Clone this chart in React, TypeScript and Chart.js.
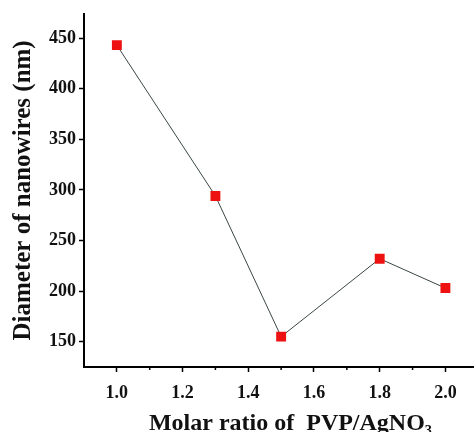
import React, { useEffect, useRef } from "react";
import { Chart, registerables } from "chart.js";

Chart.register(...registerables);

const ratios = [1.0, 1.3, 1.5, 1.8, 2.0];
const diameters = [443, 294, 155, 232, 203];
const xTicks = [1.0, 1.2, 1.4, 1.6, 1.8, 2.0];
const xMinorTicks = [1.1, 1.3, 1.5, 1.7, 1.9];
const yTicks = [150, 200, 250, 300, 350, 400, 450];

const FONT = "'Liberation Serif', 'Times New Roman', serif";

const minorTickPlugin = {
  id: "minorTicks",
  afterDraw(chart: any) {
    const xs = chart.scales.x;
    const ctx = chart.ctx;
    const y0 = chart.chartArea.bottom;
    ctx.save();
    ctx.strokeStyle = "#000";
    ctx.lineWidth = 1.5;
    xMinorTicks.forEach((v) => {
      const px = xs.getPixelForValue(v);
      ctx.beginPath();
      ctx.moveTo(px, y0);
      ctx.lineTo(px, y0 + 3);
      ctx.stroke();
    });
    ctx.restore();
  },
};

export default function App() {
  const ref = useRef<HTMLCanvasElement>(null);
  useEffect(() => {
    document.body.style.margin = "0";
    const chart = new Chart(ref.current!, {
      type: "line",
      data: {
        datasets: [
          {
            data: ratios.map((r, i) => ({ x: r, y: diameters[i] })),
            borderColor: "#3a4646",
            borderWidth: 1,
            pointStyle: "rect",
            pointRadius: 7,
            pointBackgroundColor: "#ee1111",
            pointBorderColor: "#ee1111",
            pointBorderWidth: 0,
            tension: 0,
          },
        ],
      },
      options: {
        animation: false,
        responsive: false,
        devicePixelRatio: 1,
        layout: { padding: { top: 10, right: 0, left: 0, bottom: 0 } },
        plugins: { legend: { display: false }, tooltip: { enabled: false } },
        scales: {
          x: {
            type: "linear",
            min: 0.9,
            max: 2.157,
            afterBuildTicks: (s: any) => {
              s.ticks = xTicks.map((v) => ({ value: v }));
            },
            afterFit: (s: any) => {
              s.height = 65;
            },
            grid: { drawOnChartArea: false, tickLength: 5, tickWidth: 1.5, tickColor: "#000" },
            border: { color: "#000", width: 2 },
            ticks: {
              color: "#111",
              font: { family: FONT, size: 18, weight: "bold" },
              padding: 11,
              maxRotation: 0,
              callback: (v: any) => Number(v).toFixed(1),
            },
            title: {
              display: true,
              text: "Molar ratio of  PVP/AgNO₃",
              color: "#111",
              font: { family: FONT, size: 24, weight: "bold" },
              padding: { top: 4, bottom: -6 },
            },
          },
          y: {
            type: "linear",
            min: 125,
            max: 474,
            afterBuildTicks: (s: any) => {
              s.ticks = yTicks.map((v) => ({ value: v }));
            },
            afterFit: (s: any) => {
              s.width = 84;
            },
            grid: { drawOnChartArea: false, tickLength: 5, tickWidth: 1.5, tickColor: "#000" },
            border: { color: "#000", width: 2 },
            ticks: {
              color: "#111",
              font: { family: FONT, size: 18, weight: "bold" },
              padding: 3,
            },
            title: {
              display: true,
              text: "Diameter of nanowires (nm)",
              color: "#111",
              font: { family: FONT, size: 25, weight: "bold" },
              padding: { top: 9, bottom: 8 },
            },
          },
        },
      },
      plugins: [minorTickPlugin],
    } as any);
    return () => chart.destroy();
  }, []);
  return (
    <div style={{ width: 474, height: 432, overflow: "hidden" }}>
      <canvas ref={ref} width={504} height={432} style={{ display: "block" }} />
    </div>
  );
}
